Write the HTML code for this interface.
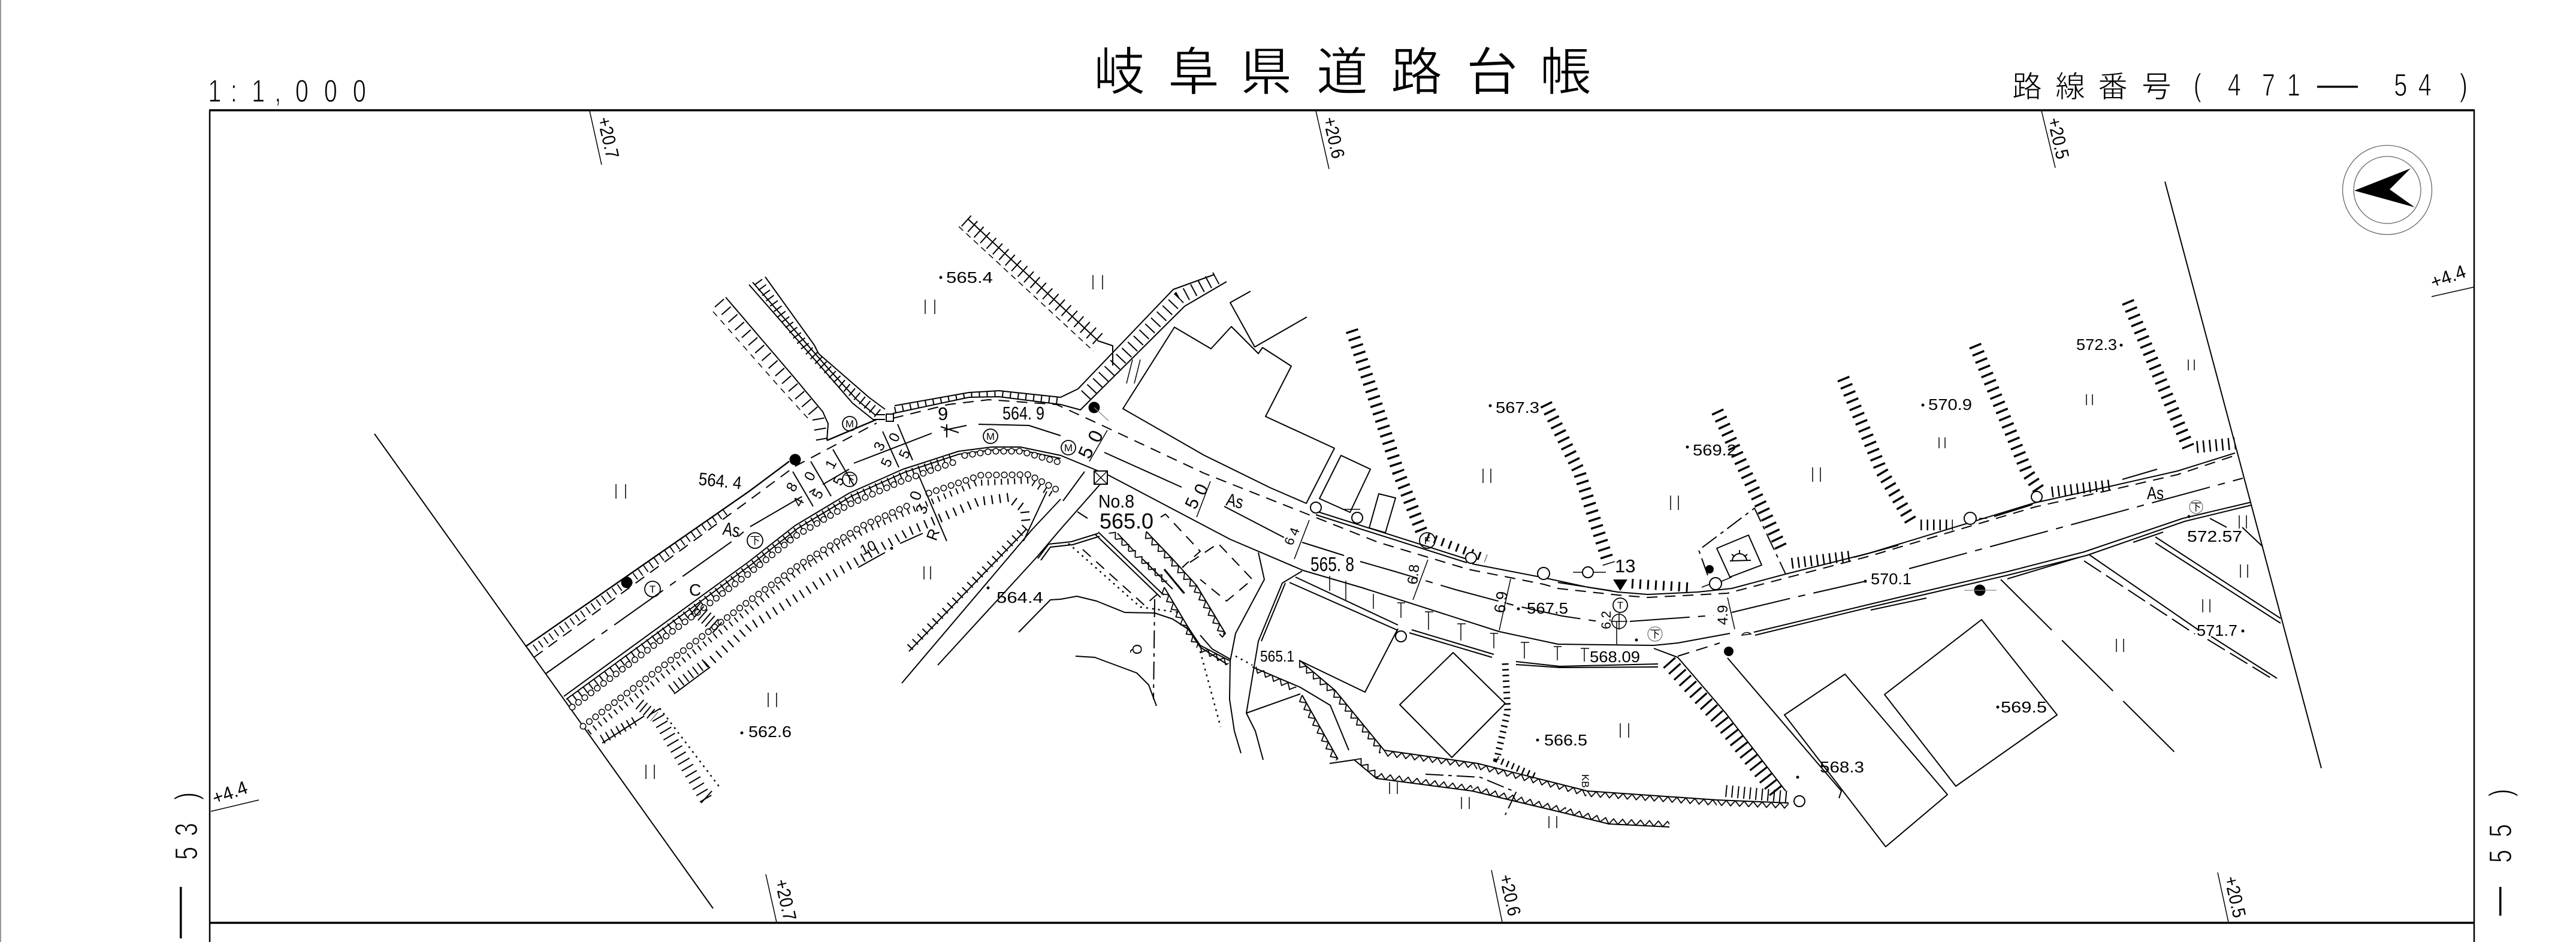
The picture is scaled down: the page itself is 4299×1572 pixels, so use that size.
<!DOCTYPE html>
<html lang="ja"><head><meta charset="utf-8"><title>岐阜県道路台帳</title>
<style>
html,body{margin:0;padding:0;background:#fff}
svg{display:block}
.l{fill:none;stroke:#000;stroke-width:2;stroke-linejoin:round}
.f{fill:none;stroke:#000;stroke-width:1.5}
.d{fill:none;stroke:#000;stroke-width:2;stroke-dasharray:18 12}
.dd{fill:none;stroke:#000;stroke-width:2;stroke-dasharray:100 14 12 14}
.dc{fill:none;stroke:#000;stroke-width:2;stroke-dasharray:30 8 6 8}
.ld{fill:none;stroke:#000;stroke-width:2;stroke-dasharray:120 24}
.o{fill:none;stroke:#000;stroke-width:2.5;stroke-dasharray:3 7}
.h{fill:none;stroke:#000;stroke-width:11;stroke-dasharray:1.8 9}
.H{fill:none;stroke:#000;stroke-width:21;stroke-dasharray:3.5 9.5}
.s1{fill:none;stroke:#000;stroke-width:11;stroke-linecap:round;stroke-dasharray:.1 13}
.s2{fill:none;stroke:#fff;stroke-width:8;stroke-linecap:round;stroke-dasharray:.1 13}
.c{fill:#fff;stroke:#000;stroke-width:2}
text{font-family:"Liberation Sans","Noto Sans CJK JP",sans-serif;fill:#000}
.n{font-size:26px}
.b{font-size:53px;stroke:#fff;stroke-width:1.2}
.cj{stroke:#fff;stroke-width:1}
.st{font-size:31px}
.m{text-anchor:middle;dominant-baseline:central;font-size:24px}
</style></head><body>
<svg xmlns="http://www.w3.org/2000/svg" width="4299" height="1572" viewBox="0 0 4299 1572">
<defs>
<pattern id="t" patternUnits="userSpaceOnUse" width="15" height="10"><path d="M0 0L7.5 9L15 0" fill="none" stroke="#000" stroke-width="1.8"/></pattern>
<pattern id="u" patternUnits="userSpaceOnUse" width="15" height="10"><path d="M0 10L7.5 1L15 10" fill="none" stroke="#000" stroke-width="1.8"/></pattern>
</defs>
<rect width="4299" height="1572" fill="#fff"/>
<path d="M1 0V1572" stroke="#999" stroke-width="2" fill="none"/>

<!-- headings -->
<g transform="scale(.75,1)"><text class="b" y="170" x="463 513 560 611 657 721 785">1:1,000</text>
<text class="b" y="160" x="4881 4957 5033 5089">(471</text>
<text class="b" y="160" x="5327 5381 5473">54)</text></g>
<text class="cj" font-size="86" y="150" x="1825 1949 2070 2197 2321 2447 2570">岐阜県道路台帳</text>
<text class="cj" font-size="50" y="162" x="3358 3430 3501 3574">路線番号</text>
<text font-size="53" y="158" x="3867" textLength="68" lengthAdjust="spacingAndGlyphs">—</text>
<g transform="translate(329,1435) rotate(-90) scale(.75,1)"><text class="b" x="0 53 133">53)</text></g>
<text font-size="53" transform="translate(315,1566) rotate(-90)" textLength="86" lengthAdjust="spacingAndGlyphs">—</text>
<g transform="translate(4191,1440) rotate(-90) scale(.75,1)"><text class="b" x="0 57 147">55)</text></g>
<text font-size="53" transform="translate(4186,1528) rotate(-90)" textLength="48" lengthAdjust="spacingAndGlyphs">—</text>

<!-- frame -->
<path d="M350 1572V184" stroke="#000" stroke-width="2.5" fill="none"/>
<path d="M4129 1572V184" stroke="#000" stroke-width="2.5" fill="none"/>
<path d="M349 184H4130M349 1540H4130" stroke="#000" stroke-width="3.5" fill="none"/>

<!-- station ticks -->
<path class="f" d="M984 185L1004 275M2196 185L2218 282M3407 185L3430 280M1278 1459L1296 1539M2489 1452L2507 1539M3701 1456L3719 1539M352 1354L432 1335M4058 495L4129 479"/>
<g class="st">
<text transform="translate(997,198) rotate(77)" textLength="70" lengthAdjust="spacingAndGlyphs">+20.7</text>
<text transform="translate(2208,198) rotate(77)" textLength="70" lengthAdjust="spacingAndGlyphs">+20.6</text>
<text transform="translate(3417,199) rotate(77)" textLength="70" lengthAdjust="spacingAndGlyphs">+20.5</text>
<text transform="translate(1293,1470) rotate(77)" textLength="70" lengthAdjust="spacingAndGlyphs">+20.7</text>
<text transform="translate(2502,1462) rotate(77)" textLength="70" lengthAdjust="spacingAndGlyphs">+20.6</text>
<text transform="translate(3712,1465) rotate(77)" textLength="70" lengthAdjust="spacingAndGlyphs">+20.5</text>
<text transform="translate(359,1343) rotate(-20)" textLength="60" lengthAdjust="spacingAndGlyphs">+4.4</text>
<text transform="translate(4061,482) rotate(-20)" textLength="60" lengthAdjust="spacingAndGlyphs">+4.4</text>
</g>

<!-- north arrow -->
<circle cx="3984" cy="317" r="74.5" fill="none" stroke="#666" stroke-width="1.3"/>
<circle cx="3984" cy="317" r="56" fill="none" stroke="#666" stroke-width="1.3"/>
<path d="M3929 318L4023 281L3988 316L4030 346Z" fill="#000"/>

<!-- cut lines -->
<path class="l" d="M625 724L1190 1516M3613 303L3742 786L3874 1282"/>

<!-- road: north edge west -->
<path class="l" style="stroke-width:2.4" d="M877 1079L1250 820L1317 770M1380 735L1463 700"/>
<path class="d" d="M891 1097L1250 835L1327 778L1380 750L1463 706"/>
<path class="h" style="stroke-width:13" d="M884 1088L1216 850"/>
<!-- branch A -->
<path class="l" d="M1211 496L1323 627L1373 687L1382 707L1380 735"/>
<path class="h" style="stroke-width:20;stroke-dasharray:2 15" d="M1200 505L1312 633L1365 695L1372 735"/>
<path class="f" style="stroke-dasharray:10 9" d="M1190 520L1300 645L1350 700"/>
<!-- branch B -->
<path class="l" d="M1277 462L1359 576L1366 590L1450 663L1477 683"/>
<path class="l" d="M1250 475L1377 620L1423 673L1457 700L1477 700"/>
<path class="l" d="M1256 471L1383 616L1430 667L1460 692L1477 692"/>
<path class="h" style="stroke-width:16;stroke-dasharray:2 9" d="M1265 470L1345 580L1400 636L1465 690"/>
<rect x="1479" y="691" width="12" height="12" class="c"/>

<!-- north band & dashed edge -->
<path class="l" d="M1493 677L1617 655L1667 652L1770 663L1799 649L1958 483L2027 458"/>
<path class="l" d="M1490 690L1617 663L1667 662L1770 675L1803 684L1977 511L2047 470"/>
<path class="h" style="stroke-width:10;stroke-dasharray:2 11" d="M1493 684L1617 659L1667 657L1770 669"/>
<path class="h" style="stroke-width:22;stroke-dasharray:2 12" d="M1812 660L1968 497L2030 464"/>
<path class="d" d="M1490 698L1583 675L1650 667L1763 675L1833 707L2010 790L2187 860L2300 905L2450 950L2576 975L2600 982L2700 993L2750 997L2883 990L3017 955L3120 928L3396 846L3530 816L3634 792L3730 760"/>
<!-- north solid east -->
<path class="l" d="M2196 853L2448 933M2196 859L2448 939M2457 941L2576 964L2650 980L2700 988L2750 992L2833 988L2890 982L2980 958L3120 923L3396 839L3524 811L3634 786L3730 756M2600 972L2690 986"/>
<path class="l" d="M3094 930L3168 910M3328 862L3392 842M3542 800L3600 783"/>

<!-- top branch -->
<path class="h" style="stroke-width:24;stroke-dasharray:2 12" d="M1612 368L1835 568"/>
<path class="l" d="M1615 365L1833 569L1857 577L1857 610"/>
<path class="f" style="stroke-dasharray:10 7" d="M1600 378L1825 586"/>

<!-- south edge -->
<path class="l" d="M941 1162L1250 937L1327 877L1417 823L1507 783L1600 753L1655 746L1703 746L1770 760L1850 793L2053 900L2175 952L2274 981L2502 1054L2600 1075L2760 1077L2800 1073L2887 1057"/>
<path class="l" d="M945 1167L1254 942L1331 882L1421 828L1510 788L1600 758L1655 751L1703 751L1770 765"/>
<path class="d" style="stroke-dasharray:20 12" d="M2800 1095L2870 1073"/>
<path class="h" style="stroke-width:13;stroke-dasharray:2 9" d="M950 1172L1250 947L1327 887L1417 833L1507 793L1590 764"/>
<path class="s1" d="M955 1180L1250 957L1327 895L1417 842L1507 802L1590 772"/>
<path class="s2" d="M955 1180L1250 957L1327 895L1417 842L1507 802L1590 772"/>
<path class="s1" d="M1610 760L1655 753L1703 753L1770 772"/>
<path class="s2" d="M1610 760L1655 753L1703 753L1770 772"/>
<path class="s1" d="M973 1212L1250 1003L1333 943L1440 877L1517 843"/>
<path class="s2" d="M973 1212L1250 1003L1333 943L1440 877L1517 843"/>
<path class="s1" d="M1550 823L1637 793L1717 792L1763 817"/>
<path class="s2" d="M1550 823L1637 793L1717 792L1763 817"/>
<path class="h" style="stroke-width:10;stroke-dasharray:2 9" d="M983 1222L1250 1018L1333 953L1440 887L1517 853L1630 806L1717 802L1755 825"/>
<path class="h" style="stroke-width:15;stroke-dasharray:2.2 11" d="M1179 1110L1250 1047L1383 963L1517 887L1633 837L1683 830L1710 850L1713 880"/>
<path class="h" style="stroke-width:16;stroke-dasharray:2 8" d="M1005 1234L1065 1200M1120 1150L1179 1105"/>
<path class="l" d="M1005 1240L1075 1195M1125 1158L1184 1114"/>
<path class="l" d="M1713 883L1517 1087"/>
<path class="h" style="stroke-width:13;stroke-dasharray:2 10" d="M1711 880L1515 1084"/>
<path class="l" d="M1432 947L1477 922M1502 907L1540 890M1533 793L1580 903M1747 820L1708 903"/>
<path class="l" d="M1323 787L1357 845M1353 770L1387 828M1390 750L1425 810M1473 720L1500 780M1498 708L1523 768"/>
<path class="H" style="stroke-width:24;stroke-dasharray:2 6" d="M1160 1015L1200 1050"/>
<path class="H" style="stroke-width:20;stroke-dasharray:2 6" d="M1067 1175L1092 1196"/>
<path class="H" style="stroke-width:22;stroke-dasharray:2 10" d="M1092 1187L1179 1335"/>
<path class="o" d="M1101 1182L1202 1315"/>
<path class="l" d="M1170 1340L1188 1320"/>

<!-- centre line -->
<path class="dd" d="M911 1124L1225 901L1250 880L1417 783"/>
<path class="l" d="M1425 773L1555 723M1575 718L1613 710M1633 708L1717 710L1770 727M1843 755L1972 813M2043 845L2143 897M2173 905L2243 927"/>
<path class="l" d="M1570 712L1600 722M1580 708V730"/>
<path class="dd" d="M2270 937L2329 954L2429 984L2530 1011L2607 1028L2667 1037"/>
<path class="dd" d="M2720 1037L2860 1027"/>
<path class="dd" d="M2890 1022L2990 998L3113 970"/>
<path class="dd" d="M3186 949L3743 798"/>

<!-- south edge east doubles -->
<path class="l" d="M2162 963L2333 1043M2152 972L2333 1052M2356 1051L2493 1092M2352 1056L2490 1097M2530 1104L2603 1112L2767 1108M2530 1109L2603 1114L2767 1113"/>
<path class="l" d="M2927 1055L3122 1008L3350 954L3478 921L3643 865L3757 838"/>
<path class="l" d="M2929 1060L3122 1013L3350 960L3482 927L3646 870L3757 843"/>
<path class="l" d="M3122 1018L3215 998M3350 966L3470 930M3560 905L3610 888"/>
<path class="f" d="M2907 1060A10 10 0 0 1 2922 1058Z"/>
<!-- ticks between road lines -->
<path class="f" d="M2219 961V986M2246 969V1001M2292 991V1016M2338 1006V1031M2384 1021V1051M2438 1041V1069M2493 1057V1082M2544 1072V1099M2599 1079V1102M2644 1082V1104M2332 1006H2345M2378 1021H2392M2432 1041H2446M2487 1057H2500M2538 1072H2552M2593 1079H2606M2638 1082H2652"/>

<!-- buildings -->
<path class="l" d="M1874 682L1960 546L2021 582L2055 545L2100 590L2107 580L2155 611L2112 695L2227 748L2180 840L2120 814L2010 760L1874 682Z"/>
<path class="l" d="M2087 486L2053 505L2094 579L2181 529"/>
<path class="l" d="M2238 760L2287 783L2253 855L2202 832Z"/>
<path class="l" d="M2301 824L2329 831L2312 889L2285 881Z"/>
<path class="l" d="M2173 953L2140 973L2100 1070L2090 1130L2080 1190L2095 1220L2108 1268M2145 973L2105 1070M2100 922L2110 967L2062 1057L2053 1103L2052 1167L2060 1220L2071 1257"/>
<path class="l" d="M2333 1049L2278 1155L2168 1102"/>
<path class="l" d="M2425 1089L2512 1174L2423 1264L2336 1176Z"/>
<path class="l" d="M2080 1190L2170 1158"/>
<path class="l" d="M3079 1125L3250 1326L3147 1413L2978 1193Z"/>
<path class="l" d="M3307 1034L3433 1193L3264 1312L3145 1159Z"/>
<path class="l" d="M2883 1098L3073 1320L3069 1332"/>
<path class="l" d="M2918 893L2940 943L2887 963L2865 915Z"/>
<path class="l" d="M2887 936L2922 935M2891 936A12 12 0 0 1 2915 936M2903 918V924M2890 925L2895 929M2916 925L2911 929"/>
<path class="dc" d="M2850 960L2835 918L2928 848L2980 958"/>

<!-- SW lines -->
<path class="l" d="M1505 1140L1723 883L1770 833M1565 1110L1730 930L1770 883L1837 807M1774 836L1810 787M1798 854L1815 865"/>
<path class="l" d="M1833 890L1788 904L1750 908L1732 932M1835 895L1790 909L1753 913L1737 935"/>
<path class="l" d="M1833 888L1942 993M1828 892L1937 997"/>
<!-- triangle bands -->
<g fill="url(#t)">
<rect width="64" height="10" transform="translate(1913 887) rotate(46)"/>
<rect width="59" height="10" transform="translate(1957 933) rotate(48)"/>
<rect width="93" height="10" transform="translate(1997 977) rotate(59)"/>
<rect width="77" height="10" transform="translate(2169 1102) rotate(40.3)"/>
<rect width="129" height="10" transform="translate(2228 1152) rotate(50.6)"/>
<rect width="158" height="10" transform="translate(2310 1252) rotate(8)"/>
<rect width="189" height="10" transform="translate(2466 1274) rotate(14)"/>
<rect width="217" height="10" transform="translate(2649 1320) rotate(4)"/>
<rect width="119" height="10" transform="translate(2866 1335) rotate(2.4)"/>
<rect width="76" height="10" transform="translate(2096 1112) rotate(27)"/>
<rect width="123" height="10" transform="translate(2173 1160) rotate(60.7)"/>
<rect width="78" height="10" transform="translate(1943 980) rotate(59)"/>
<rect width="36" height="10" transform="translate(1983 1047) rotate(56)"/>
<rect width="56" height="10" transform="translate(2003 1077) rotate(27.5)"/>
</g>
<g fill="url(#u)">
<rect y="-10" width="126" height="10" transform="translate(1850 890) rotate(42.4)"/>
<rect y="-10" width="48" height="10" transform="translate(2260 1268) rotate(40)"/>
<rect y="-10" width="161" height="10" transform="translate(2297 1299) rotate(7.5)"/>
<rect y="-10" width="159" height="10" transform="translate(2457 1320) rotate(13.4)"/>
<rect y="-10" width="75" height="10" transform="translate(2612 1357) rotate(13.9)"/>
<rect y="-10" width="101" height="10" transform="translate(2685 1375) rotate(2.8)"/>
</g>
<path class="l" d="M1913 887L1957 933L1997 977L2045 1057L2040 1063L2035 1058"/>
<path class="l" d="M1865 890L1893 920M1907 933L1957 983M1943 950L1977 990M1943 980L1983 1047L2003 1077L2053 1103M2003 1060L2023 1083L2053 1100"/>
<path class="l" style="stroke-width:3" d="M1943 950L1976 990"/>
<path class="d" d="M1937 863L1945 858L2003 920L1973 947L2033 907L2090 967L2047 1003L2003 967M1807 917L1910 1010L1937 987"/>
<path class="o" d="M1783 907L1903 1013L1967 1022M2003 1087L2037 1213M2062 1095L2090 1110"/>
<path class="l" d="M1700 1055L1753 1001L1770 1000L1797 995L1830 1003L1877 1022L1927 1023L1957 1033L1983 1050L2003 1080L2047 1108M1795 1095L1827 1097L1897 1123L1917 1143L1930 1178"/>
<path class="dc" d="M1927 1000L1925 1167"/>

<!-- lower lines -->
<path class="l" d="M2169 1102L2228 1152L2310 1252L2466 1274L2649 1320L2866 1335L2985 1340"/>
<path class="l" d="M2090 1113L2170 1147L2220 1177L2251 1252"/>
<path class="l" d="M2173 1160L2233 1267"/>
<path class="l" d="M2219 1274L2260 1268L2297 1299L2457 1320L2612 1357L2685 1375L2786 1380"/>
<path class="dc" d="M2379 1292L2470 1297L2530 1322L2512 1360"/>
<path class="H" style="stroke-width:11;stroke-dasharray:2.5 7" d="M2512 1107L2516 1187L2498 1267L2566 1297"/>
<path class="l" d="M2760 1082L2800 1097L2880 1190L2980 1320"/>
<path class="H" style="stroke-width:26;stroke-dasharray:3.2 10" d="M2785 1105L2868 1198L2968 1325"/>
<path class="H" style="stroke-width:20;stroke-dasharray:2 8" d="M2880 1320L2985 1330"/>

<!-- parcels right -->
<path class="ld" d="M3339 967L3641 1267"/>
<path class="d" style="stroke-dasharray:34 10" d="M3478 936L3663 1058M3684 1067L3794 1134"/>
<path class="l" d="M3487 926L3670 1052M3597 896L3806 1032M3690 1062L3800 1132M3597 906L3806 1040"/>
<path class="l" d="M3688 865L3716 880M3742 880L3776 912"/>

<!-- hatched banks -->
<path class="H" d="M2256 551L2333 786L2374 891"/>
<path class="H" d="M2580 674L2635 786L2685 941"/>
<path class="H" d="M2866 686L2912 786L2976 921"/>
<path class="H" style="stroke-width:18;stroke-dasharray:2.5 8" d="M2990 940L3087 928"/>
<path class="H" d="M3076 631L3140 786L3190 871"/>
<path class="H" style="stroke-width:18;stroke-dasharray:2.5 8" d="M3205 876L3259 876"/>
<path class="H" d="M3296 576L3382 786L3405 821"/>
<path class="H" style="stroke-width:18;stroke-dasharray:2.5 8" d="M3424 821L3524 809"/>
<path class="H" d="M3551 503L3652 746"/>
<path class="H" style="stroke-width:20;stroke-dasharray:2.5 8" d="M3666 746L3730 740"/>
<path class="H" style="stroke-width:14;stroke-dasharray:3 10" d="M2382 895L2480 932"/>
<path class="H" style="stroke-width:16;stroke-dasharray:3 10" d="M2723 974L2820 980"/>

<!-- dimension arrows -->
<path class="f" d="M2020 803L1997 863M2185 868L2160 933M2383 934L2358 1001M2521 966L2502 1052M2698 1037L2698 1075M2883 997L2895 1050M1848 718L1818 770"/>

<!-- poles -->
<circle cx="3288" cy="865" r="10" class="c"/><circle cx="3399" cy="829" r="9" class="c"/><circle cx="2196" cy="847" r="9" class="c"/><circle cx="2265" cy="864" r="9" class="c"/><circle cx="2455" cy="931" r="9" class="c"/><circle cx="2576" cy="957" r="10" class="c"/><circle cx="2650" cy="955" r="9" class="c"/><circle cx="2338" cy="1062" r="9" class="c"/><circle cx="3003" cy="1337" r="9" class="c"/><circle cx="2863" cy="974" r="10" class="c"/>
<path class="f" d="M3303 865H3316M2625 955H2640M2660 955H2680M2270 850H2240M2840 980L2853 975M2873 970L2890 963"/>

<!-- black dots -->
<circle cx="1826" cy="680" r="9.5"/><circle cx="1327" cy="767" r="9.5"/><circle cx="1046" cy="972" r="9.5"/><circle cx="3304" cy="985" r="9.5"/>
<circle cx="2885" cy="1087" r="8"/><circle cx="2853" cy="950" r="7"/>
<path d="M3278 985H3332M1826 680L1850 702" stroke="#888" stroke-width="1.3" fill="none"/>
<path d="M2692 967H2716L2704 986Z" fill="#000"/>

<!-- symbols -->
<rect x="1826" y="786" width="22" height="22" class="c"/><path class="f" d="M1826 786L1848 808M1848 786L1826 808"/>
<circle cx="2702" cy="1037" r="12" fill="none" stroke="#000" stroke-width="1.6"/><path class="f" d="M2688 1037H2716M2702 1023V1051"/>
<g font-size="17" text-anchor="middle">
<g fill="none" stroke="#000" stroke-width="1.8"><circle cx="2704" cy="1010" r="12"/><circle cx="2382" cy="902" r="13"/><circle cx="1089" cy="983" r="13"/><circle cx="1260" cy="902" r="13"/><circle cx="1653" cy="728" r="12"/><circle cx="1783" cy="747" r="12"/><circle cx="1418" cy="707" r="12"/><circle cx="1418" cy="800" r="12"/></g>
<circle cx="2762" cy="1058" r="12" fill="none" stroke="#555"/><circle cx="3665" cy="846" r="11" fill="none" stroke="#555"/>
<text x="2704" y="1016">T</text><text x="2382" y="908">F</text><text x="1089" y="989">T</text><text x="1260" y="908">下</text><text x="1653" y="734">M</text><text x="1783" y="753">M</text><text x="1418" y="713">M</text><text x="1418" y="806">下</text><text x="2762" y="1064">下</text><text x="3665" y="852">下</text>
</g>

<!-- II marks -->
<path class="f" d="M1824 459v24m16-24v24M1544 500v24m16-24v24M1028 808v24m16-24v24M1282 1156v24m14-24v24M1078 1276v24m14-24v24M1542 945v22m11-22v22M2475 782v24m13-24v24M2788 827v24m13-24v24M2704 1207v24m14-24v24M2319 1305v20m13-20v20M2439 1330v20m13-20v20M2585 1362v20m13-20v20M2786 830v0M3025 780v24m13-24v24M3236 730v18m10-18v18M3482 658v18m10-18v18M3652 600v18m10-18v18M3737 860v22m12-22v22M3739 942v22m12-22v22M3676 1000v22m12-22v22M3532 1066v22m12-22v22M1880 640L1890 600M1893 640L1903 600"/>

<!-- elevations -->
<g class="n">
<text x="1673" y="700" font-size="31" textLength="70" lengthAdjust="spacingAndGlyphs">564. 9</text>
<text x="1565" y="701" font-size="31">9</text>
<text transform="translate(1165,809) rotate(6)" font-size="30" textLength="72" lengthAdjust="spacingAndGlyphs">564. 4</text>
<text x="1579" y="472" textLength="78" lengthAdjust="spacingAndGlyphs">565.4</text>
<text x="2496" y="689" textLength="73" lengthAdjust="spacingAndGlyphs">567.3</text>
<text x="2825" y="760" textLength="73" lengthAdjust="spacingAndGlyphs">569.2</text>
<text x="3218" y="684" textLength="73" lengthAdjust="spacingAndGlyphs">570.9</text>
<text x="3465" y="584" textLength="68" lengthAdjust="spacingAndGlyphs">572.3</text>
<text x="1249" y="1230" textLength="72" lengthAdjust="spacingAndGlyphs">562.6</text>
<text x="1663" y="1006" textLength="78" lengthAdjust="spacingAndGlyphs">564.4</text>
<text x="2187" y="953" font-size="33" textLength="73" lengthAdjust="spacingAndGlyphs">565. 8</text>
<text x="1833" y="847" font-size="31" textLength="60" lengthAdjust="spacingAndGlyphs">No.8</text>
<text x="1835" y="882" font-size="36" textLength="90" lengthAdjust="spacingAndGlyphs">565.0</text>
<text x="2103" y="1104" textLength="57" lengthAdjust="spacingAndGlyphs">565.1</text>
<text x="2548" y="1024" textLength="69" lengthAdjust="spacingAndGlyphs">567.5</text>
<text x="2653" y="1105" textLength="84" lengthAdjust="spacingAndGlyphs">568.09</text>
<text x="2577" y="1244" textLength="72" lengthAdjust="spacingAndGlyphs">566.5</text>
<text x="3122" y="975" textLength="68" lengthAdjust="spacingAndGlyphs">570.1</text>
<text x="3650" y="904" textLength="92" lengthAdjust="spacingAndGlyphs">572.57</text>
<text x="3666" y="1061" textLength="68" lengthAdjust="spacingAndGlyphs">571.7</text>
<text x="3339" y="1189" textLength="77" lengthAdjust="spacingAndGlyphs">569.5</text>
<text x="3037" y="1289" textLength="74" lengthAdjust="spacingAndGlyphs">568.3</text>
<text x="2695" y="955" font-size="31">13</text>
<text transform="translate(1205,892) rotate(10)" font-size="31" textLength="28" lengthAdjust="spacingAndGlyphs">As</text>
<text transform="translate(2045,843) rotate(12)" font-size="30" textLength="28" lengthAdjust="spacingAndGlyphs">As</text>
<text x="3583" y="833" font-size="30" textLength="28" lengthAdjust="spacingAndGlyphs">As</text>
<text x="1150" y="994" font-size="28">C</text>
<text transform="translate(2365,976) rotate(-84)" font-size="24">6.8</text>
<text transform="translate(2511,1024) rotate(-82)" font-size="26">6.9</text>
<text transform="translate(2688,1050) rotate(-90)" font-size="22">6.2</text>
<text transform="translate(2883,1043) rotate(-90)" font-size="24">4.9</text>
<text transform="translate(1440,927) rotate(-25)" font-size="24">10</text>
<text transform="translate(1890,1075) rotate(90)" font-size="22">Q</text>
<text transform="translate(2640,1292) rotate(90)" font-size="17">KB</text>
</g>
<g class="m">
<text transform="translate(1322,813) rotate(-62)">8</text>
<text transform="translate(1333,838) rotate(-62)">4</text>
<text transform="translate(1352,795) rotate(-62)">0</text>
<text transform="translate(1365,825) rotate(-62)">5</text>
<text transform="translate(1387,775) rotate(-62)">1</text>
<text transform="translate(1400,803) rotate(-62)">5</text>
<text transform="translate(1468,745) rotate(-65)">3</text>
<text transform="translate(1480,772) rotate(-65)">5</text>
<text transform="translate(1493,730) rotate(-65)">0</text>
<text transform="translate(1510,758) rotate(-65)">5</text>
<text transform="translate(1557,892) rotate(-70)" style="font-size:26px">R</text>
<text transform="translate(1538,850) rotate(-70)" style="font-size:26px">3</text>
<text transform="translate(1528,827) rotate(-70)" style="font-size:26px">0</text>
<text transform="translate(1812,755) rotate(-65)" style="font-size:32px">5</text>
<text transform="translate(1828,728) rotate(-65)" style="font-size:32px">0</text>
<text transform="translate(1990,840) rotate(-65)" style="font-size:30px">5</text>
<text transform="translate(2005,817) rotate(-65)" style="font-size:30px">0</text>
<text transform="translate(2152,903) rotate(-70)" style="font-size:22px">6</text>
<text transform="translate(2160,887) rotate(-70)" style="font-size:22px">4</text>
</g>
<g>
<circle cx="1570" cy="463" r="2.5"/><circle cx="2487" cy="677" r="2.5"/><circle cx="2816" cy="746" r="2.5"/><circle cx="3209" cy="676" r="2.5"/><circle cx="3540" cy="576" r="2.5"/><circle cx="1238" cy="1223" r="2.5"/><circle cx="2534" cy="1016" r="2.5"/><circle cx="2566" cy="1235" r="2.5"/><circle cx="3743" cy="1053" r="2.5"/><circle cx="3334" cy="1180" r="2.5"/><circle cx="3113" cy="970" r="2.5"/><circle cx="3653" cy="862" r="2.5"/><circle cx="3000" cy="1297" r="2.5"/><circle cx="2731" cy="1068" r="2.5"/><circle cx="1488" cy="915" r="2.5"/><circle cx="1649" cy="981" r="2.5"/>
</g>
</svg>
</body></html>
